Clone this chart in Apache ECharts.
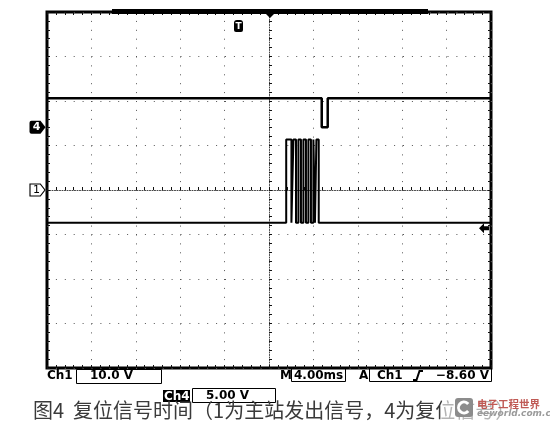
<!DOCTYPE html>
<html><head><meta charset="utf-8">
<script src="https://cdn.jsdelivr.net/npm/echarts@6/dist/echarts.min.js"></script>
<style>html,body{margin:0;padding:0;background:#fff}#c{width:550px;height:433px}</style>
</head><body><div id="c"></div>
<script>
// ---- time base (ms): 4.00 ms/div, 10 divisions ----
const timeMin = -20, timeMax = 20, timePerDiv = 4;
const divsY = 4; // 8 vertical divisions, +-4 from centre

// ---- Ch1: 10 V/div, ground marker at screen centre ----
const ch1VoltsPerDiv = 10;
const ch1GroundDiv = 0;
const ch1Idle = -7.35, ch1Active = 11.35;
const ch1EdgeTimes = [1.55, 2.02, 2.20, 2.43, 2.65, 2.88, 3.10, 3.33, 3.55, 3.78, 4.00, 4.14, 4.27, 4.48];

// ---- Ch4: 5 V/div, ground marker 1.41 div above centre ----
const ch4VoltsPerDiv = 5;
const ch4GroundDiv = 1.41;
const ch4Idle = 3.25, ch4Active = 0;
const ch4EdgeTimes = [4.75, 5.29];

// ---- trigger ----
const triggerLevel = -8.6;   // V on Ch1
// ---- readouts ----
const ch1Readout = ['Ch1', '10.0 V'];
const ch4Readout = ['Ch4', '5.00 V'];
const timeReadout = ['M', '4.00ms'];
const trigReadout = ['A', 'Ch1', '−8.60 V'];
const caption = '图4  复位信号时间（1为主站发出信号，4为复位信号）';
const watermark = ['电子工程世界', 'eeworld.com.cn'];

function squareWave(edges, idle, active) {
  const pts = [[timeMin, idle]];
  let lvl = idle;
  for (const t of edges) {
    pts.push([t, lvl]);
    lvl = (lvl === idle) ? active : idle;
    pts.push([t, lvl]);
  }
  pts.push([timeMax, lvl]);
  return pts;
}

const chart = echarts.init(document.getElementById('c'), null, {renderer: 'canvas'});
const tickC = '#111';
const dotStyle = {color: '#555', width: 1, type: [1, 7.9]};

function frameX(pos, split) {
  return {type: 'value', min: timeMin, max: timeMax, interval: timePerDiv, position: pos,
    axisLine: {show: false, onZero: false}, axisLabel: {show: false},
    axisTick: {show: true, inside: true, length: 3, lineStyle: {color: tickC}},
    minorTick: {show: true, splitNumber: 5, length: 3, lineStyle: {color: tickC}},
    splitLine: {show: split, lineStyle: dotStyle}};
}
function frameY(pos, split) {
  return {type: 'value', min: -divsY, max: divsY, interval: 1, position: pos,
    axisLine: {show: false, onZero: false}, axisLabel: {show: false},
    axisTick: {show: true, inside: true, length: 3, lineStyle: {color: tickC}},
    minorTick: {show: true, splitNumber: 5, length: 3, lineStyle: {color: tickC}},
    splitLine: {show: split, lineStyle: dotStyle}};
}

const readFont = 'bold 12px "DejaVu Sans"';
const option = {
  animation: false,
  backgroundColor: '#fff',
  grid: {left: 47, top: 12, width: 444, height: 356, show: true, borderColor: '#000', borderWidth: 3, backgroundColor: '#fff'},
  xAxis: [
    frameX('bottom', true),
    frameX('top', false),
    {type: 'value', min: timeMin, max: timeMax, interval: timePerDiv, position: 'bottom',
      axisLine: {show: true, onZero: true, onZeroAxisIndex: 0, lineStyle: {color: '#444', width: 1, type: [1, 1.5]}},
      axisLabel: {show: false}, splitLine: {show: false},
      axisTick: {show: true, inside: true, length: 3, lineStyle: {color: tickC}},
      minorTick: {show: true, splitNumber: 5, length: 3, lineStyle: {color: tickC}}}
  ],
  yAxis: [
    frameY('left', true),
    frameY('right', false),
    {type: 'value', min: -divsY, max: divsY, interval: 1, position: 'left',
      axisLine: {show: true, onZero: true, onZeroAxisIndex: 0, lineStyle: {color: '#444', width: 1, type: [1, 1.5]}},
      axisLabel: {show: false}, splitLine: {show: false},
      axisTick: {show: true, inside: true, length: 3, lineStyle: {color: tickC}},
      minorTick: {show: true, splitNumber: 5, length: 3, lineStyle: {color: tickC}}},
    {type: 'value', show: false, min: -(divsY + ch1GroundDiv) * ch1VoltsPerDiv, max: (divsY - ch1GroundDiv) * ch1VoltsPerDiv},
    {type: 'value', show: false, min: -(divsY + ch4GroundDiv) * ch4VoltsPerDiv, max: (divsY - ch4GroundDiv) * ch4VoltsPerDiv}
  ],
  series: [
    {name: 'Ch1', type: 'line', xAxisIndex: 0, yAxisIndex: 3, data: squareWave(ch1EdgeTimes, ch1Idle, ch1Active),
      showSymbol: false, silent: true, z: 5, lineStyle: {color: '#000', width: 2},
      markPoint: {silent: true, animation: false, data: [
        {coord: [timeMin, 0], symbol: 'path://M0,0 L11,0 L16,6.5 L11,13 L0,13 Z', symbolSize: [15, 12], symbolOffset: [-9.5, 0],
          itemStyle: {color: '#fff', borderColor: '#000', borderWidth: 1},
          label: {show: true, formatter: '1', color: '#000', fontSize: 11, fontFamily: 'DejaVu Sans', offset: [-1, 0]}},
        {coord: [timeMax, triggerLevel], symbol: 'path://M0,5 L5,0 L5,3 L10,3 L10,7 L5,7 L5,10 Z', symbolSize: [10, 10], symbolOffset: [-7, 0],
          itemStyle: {color: '#000'}, label: {show: false}}
      ]}},
    {name: 'Ch4', type: 'line', xAxisIndex: 0, yAxisIndex: 4, data: squareWave(ch4EdgeTimes, ch4Idle, ch4Active),
      showSymbol: false, silent: true, z: 5, lineStyle: {color: '#000', width: 2.5},
      markPoint: {silent: true, animation: false, data: [
        {coord: [timeMin, 0], symbol: 'path://M2,0 L11,0 L16,6.5 L11,13 L2,13 Q0,13 0,11 L0,2 Q0,0 2,0 Z', symbolSize: [16, 13], symbolOffset: [-9.5, 0],
          itemStyle: {color: '#000'},
          label: {show: true, formatter: '4', color: '#fff', fontSize: 11, fontWeight: 'bold', fontFamily: 'DejaVu Sans', offset: [-1, 0]}}
      ]}}
  ],
  graphic: [
    // record-length bar and centre marker on top edge
    {type: 'rect', shape: {x: 112, y: 9, width: 316, height: 5}, style: {fill: '#000'}, z: 100},
    {type: 'polygon', shape: {points: [[265, 13], [275, 13], [270, 18]]}, style: {fill: '#000'}, z: 100},
    // trigger position "T" badge
    {type: 'rect', shape: {x: 234, y: 20, width: 9, height: 12, r: [3, 3, 2, 2]}, style: {fill: '#000'}, z: 100},
    {type: 'text', x: 238.5, y: 26.5, style: {text: 'T', font: 'bold 9px "DejaVu Sans"', fill: '#fff', align: 'center', verticalAlign: 'middle'}, z: 101},
    // Ch1 readout
    {type: 'text', x: 47, y: 375.5, style: {text: ch1Readout[0], font: readFont, fill: '#000', verticalAlign: 'middle'}, z: 100},
    {type: 'rect', shape: {x: 76.5, y: 369.5, width: 85, height: 14}, style: {fill: 'none', stroke: '#000', lineWidth: 1}, z: 100},
    {type: 'text', x: 90, y: 376, style: {text: ch1Readout[1], font: readFont, fill: '#000', verticalAlign: 'middle'}, z: 100},
    // Ch4 readout
    {type: 'rect', shape: {x: 163, y: 390, width: 27, height: 12}, style: {fill: '#000'}, z: 100},
    {type: 'text', x: 164, y: 396.5, style: {text: ch4Readout[0], font: readFont, fill: '#fff', verticalAlign: 'middle'}, z: 101},
    {type: 'rect', shape: {x: 192.5, y: 388.5, width: 83, height: 14}, style: {fill: 'none', stroke: '#000', lineWidth: 1}, z: 100},
    {type: 'text', x: 206, y: 396, style: {text: ch4Readout[1], font: readFont, fill: '#000', verticalAlign: 'middle'}, z: 100},
    // time base readout
    {type: 'text', x: 280, y: 375.5, style: {text: timeReadout[0], font: readFont, fill: '#000', verticalAlign: 'middle'}, z: 100},
    {type: 'rect', shape: {x: 291.5, y: 368.5, width: 54, height: 13}, style: {fill: 'none', stroke: '#000', lineWidth: 1}, z: 100},
    {type: 'text', x: 294, y: 375.5, style: {text: timeReadout[1], font: readFont, fill: '#000', verticalAlign: 'middle'}, z: 100},
    // trigger readout
    {type: 'text', x: 359, y: 375.5, style: {text: trigReadout[0], font: readFont, fill: '#000', verticalAlign: 'middle'}, z: 100},
    {type: 'rect', shape: {x: 369.5, y: 368.5, width: 122, height: 13}, style: {fill: 'none', stroke: '#000', lineWidth: 1}, z: 100},
    {type: 'text', x: 377, y: 375.5, style: {text: trigReadout[1], font: readFont, fill: '#000', verticalAlign: 'middle'}, z: 100},
    {type: 'polyline', shape: {points: [[413, 380], [416.5, 380], [419.5, 371], [423, 371]]}, style: {fill: 'none', stroke: '#000', lineWidth: 2}, z: 100},
    {type: 'text', x: 489, y: 375.5, style: {text: trigReadout[2], font: readFont, fill: '#000', align: 'right', verticalAlign: 'middle'}, z: 100},
    // caption
    {type: 'text', x: 33, y: 410, style: {text: caption, font: '20px "Noto Sans CJK SC"', fill: '#3a3a3a', verticalAlign: 'middle'}, z: 100},
    // watermark
    {type: 'rect', shape: {x: 442, y: 395, width: 108, height: 38}, style: {fill: 'rgba(255,255,255,0.62)'}, z: 110},
    {type: 'rect', shape: {x: 455, y: 398, width: 18, height: 19, r: 3}, style: {fill: '#8c8c8c'}, z: 111},
    {type: 'arc', shape: {cx: 464, cy: 407.5, r: 5.5, startAngle: 0.7, endAngle: Math.PI * 2 - 0.7, clockwise: true}, style: {fill: 'none', stroke: '#fff', lineWidth: 3}, z: 112},
    {type: 'text', x: 477, y: 404, style: {text: watermark[0], font: 'bold 10.5px "Noto Sans CJK SC"', fill: '#c05a55', verticalAlign: 'middle'}, z: 111},
    {type: 'text', x: 477, y: 414, style: {text: watermark[1], font: 'italic bold 9px "DejaVu Sans"', fill: '#9a9a9a', verticalAlign: 'middle'}, z: 111}
  ]
};
chart.setOption(option);
</script>
</body></html>
